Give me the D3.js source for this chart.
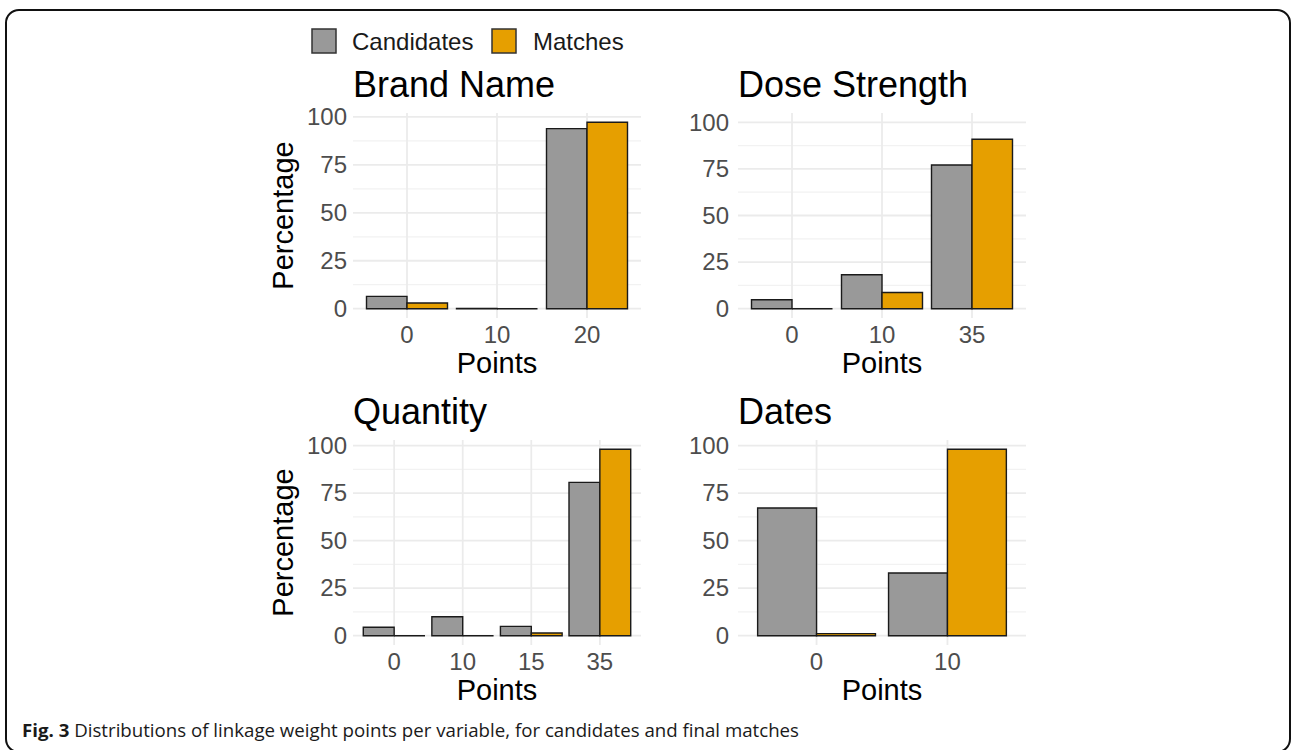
<!DOCTYPE html>
<html>
<head>
<meta charset="utf-8">
<script src="https://cdn.jsdelivr.net/npm/d3@7/dist/d3.min.js"></script>
<style>
  html, body { margin: 0; padding: 0; background: #fff; }
  svg { display: block; }
</style>
</head>
<body>
<svg id="chart" width="1292" height="750"></svg>
<script>
// ---- data ----
const panelTitles = ["Brand Name", "Dose Strength", "Quantity", "Dates"];
const brandPoints = ["0", "10", "20"];
const brandCandidates = [6.4, 0.1, 93.9];
const brandMatches = [3.0, 0.0, 97.2];
const dosePoints = ["0", "10", "35"];
const doseCandidates = [4.8, 18.2, 77.1];
const doseMatches = [0.0, 8.7, 90.9];
const quantityPoints = ["0", "10", "15", "35"];
const quantityCandidates = [4.4, 10.0, 4.9, 80.7];
const quantityMatches = [0.0, 0.0, 1.4, 98.1];
const datesPoints = ["0", "10"];
const datesCandidates = [67.2, 33.0];
const datesMatches = [1.1, 98.1];
const yTicks = [0, 25, 50, 75, 100];
const yMinorTicks = [12.5, 37.5, 62.5, 87.5];
const seriesNames = ["Candidates", "Matches"];
const yLimits = [97.2, 100, 98.1, 98.1];   // upper limit of each panel's y scale
const captionBold = "Fig. 3";
const captionText = " Distributions of linkage weight points per variable, for candidates and final matches";

// ---- styles / layout ----
const colors = { Candidates: "#999999", Matches: "#E69F00" };
const FONT = "'Liberation Sans', Arial, Helvetica, sans-serif";
const panels = [
  { title: panelTitles[0], cats: brandPoints, cand: brandCandidates, match: brandMatches, ymax: yLimits[0], x0: 353, x1: 641, y0: 113, y1: 318, ylab: true, tickGap: 6 },
  { title: panelTitles[1], cats: dosePoints, cand: doseCandidates, match: doseMatches, ymax: yLimits[1], x0: 738, x1: 1026, y0: 113, y1: 318, ylab: false, tickGap: 9 },
  { title: panelTitles[2], cats: quantityPoints, cand: quantityCandidates, match: quantityMatches, ymax: yLimits[2], x0: 353, x1: 641, y0: 440, y1: 645, ylab: true, tickGap: 6 },
  { title: panelTitles[3], cats: datesPoints, cand: datesCandidates, match: datesMatches, ymax: yLimits[3], x0: 738, x1: 1026, y0: 440, y1: 645, ylab: false, tickGap: 9 }
];

const svg = d3.select("#chart");

// outer frame
svg.append("rect")
  .attr("x", 6).attr("y", 10).attr("width", 1284).attr("height", 742)
  .attr("rx", 13).attr("ry", 13)
  .attr("fill", "none").attr("stroke", "#111").attr("stroke-width", 2);

// legend
const legend = svg.append("g");
const legendItems = [
  { name: seriesNames[0], kx: 312, tx: 352 },
  { name: seriesNames[1], kx: 492, tx: 533 }
];
legendItems.forEach(it => {
  legend.append("rect").attr("x", it.kx).attr("y", 29).attr("width", 24).attr("height", 24)
    .attr("fill", colors[it.name]).attr("stroke", "#333").attr("stroke-width", 1.5);
  legend.append("text").attr("x", it.tx).attr("y", 50)
    .attr("font-family", FONT).attr("font-size", 24).attr("fill", "#1a1a1a")
    .text(it.name);
});

function barPath(x, y, w, h) {
  return `M${x},${y}h${w}v${h}h${-w}Z`;
}

panels.forEach(p => {
  const g = svg.append("g");
  const pad = 0.05 * p.ymax;
  const y = d3.scaleLinear().domain([-pad, p.ymax + pad]).range([p.y1, p.y0]);
  const x = d3.scaleBand().domain(p.cats).range([p.x0, p.x1]).paddingInner(0.1).paddingOuter(0.15);
  const xs = d3.scaleBand().domain(seriesNames).range([0, x.bandwidth()]).padding(0);

  // minor grid
  g.selectAll(".ymin").data(yMinorTicks.filter(t => y(t) >= p.y0)).join("line")
    .attr("x1", p.x0).attr("x2", p.x1).attr("y1", d => y(d)).attr("y2", d => y(d))
    .attr("stroke", "#f2f2f2").attr("stroke-width", 1.2);
  // major grid
  g.selectAll(".ymaj").data(yTicks.filter(t => y(t) >= p.y0)).join("line")
    .attr("x1", p.x0).attr("x2", p.x1).attr("y1", d => y(d)).attr("y2", d => y(d))
    .attr("stroke", "#ebebeb").attr("stroke-width", 1.8);
  g.selectAll(".xmaj").data(p.cats).join("line")
    .attr("x1", d => x(d) + x.bandwidth() / 2).attr("x2", d => x(d) + x.bandwidth() / 2)
    .attr("y1", p.y0).attr("y2", p.y1)
    .attr("stroke", "#ebebeb").attr("stroke-width", 1.8);

  // bars
  const rows = [];
  p.cats.forEach((c, i) => {
    rows.push({ cat: c, s: "Candidates", v: p.cand[i] });
    rows.push({ cat: c, s: "Matches", v: p.match[i] });
  });
  g.selectAll(".bar").data(rows).join("path")
    .attr("d", d => barPath(x(d.cat) + xs(d.s), y(d.v), xs.bandwidth(), y(0) - y(d.v)))
    .attr("fill", d => colors[d.s])
    .attr("stroke", "#1a1a1a").attr("stroke-width", 1.4);

  // y axis (labels only, theme_minimal)
  const yAxis = d3.axisLeft(y).tickValues(yTicks.filter(t => y(t) >= p.y0)).tickSize(0).tickPadding(p.tickGap);
  const ya = g.append("g").attr("transform", `translate(${p.x0},0)`).call(yAxis);
  ya.select(".domain").remove();
  ya.selectAll("text").attr("font-family", FONT).attr("font-size", 24).attr("fill", "#4d4d4d");

  // x axis
  const xAxis = d3.axisBottom(x).tickSize(0).tickPadding(8);
  const xa = g.append("g").attr("transform", `translate(0,${p.y1})`).call(xAxis);
  xa.select(".domain").remove();
  xa.selectAll("text").attr("font-family", FONT).attr("font-size", 24).attr("fill", "#4d4d4d");

  // title
  g.append("text").attr("x", p.x0).attr("y", p.y0 - 16)
    .attr("font-family", FONT).attr("font-size", 36).attr("fill", "#000")
    .text(p.title);

  // x label
  g.append("text").attr("x", (p.x0 + p.x1) / 2).attr("y", p.y1 + 55)
    .attr("text-anchor", "middle")
    .attr("font-family", FONT).attr("font-size", 29).attr("fill", "#000")
    .text("Points");

  if (p.ylab) {
    g.append("text")
      .attr("transform", `translate(293,${(p.y0 + p.y1) / 2}) rotate(-90)`)
      .attr("text-anchor", "middle")
      .attr("font-family", FONT).attr("font-size", 29).attr("fill", "#000")
      .text("Percentage");
  }
});

// caption
const cap = svg.append("text").attr("x", 22).attr("y", 737)
  .attr("font-family", "'Open Sans', 'Noto Sans', sans-serif").attr("font-size", 18).attr("fill", "#1a1a1a")
  .attr("textLength", 777).attr("lengthAdjust", "spacingAndGlyphs");
cap.append("tspan").attr("font-weight", "bold").text(captionBold);
cap.append("tspan").text(captionText);
</script>
</body>
</html>
